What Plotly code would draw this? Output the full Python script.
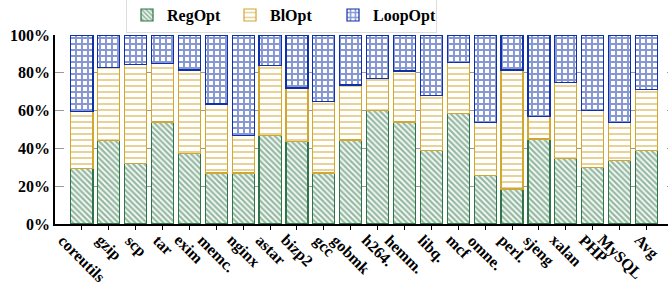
import plotly.graph_objects as go

categories = ["coreutils", "gzip", "scp", "tar", "exim", "memc.", "nginx", "astar", "bizp2", "gcc",
              "gobmk", "h264.", "hemm.", "libq.", "mcf", "omne.", "perl.", "sjeng", "xalan", "PHP",
              "MySQL", "Avg"]
reg_opt = [29.5, 44, 32, 54, 37.5, 27, 27, 47, 43.5, 27, 44.5, 60, 54, 39, 58.5, 25.5, 18.5, 45, 34.5, 30, 33.5, 39]
bl_opt = [30, 39, 52.5, 31, 44, 36.5, 20, 37, 28.5, 38, 29, 17, 27, 29, 27, 28, 63, 12, 40.5, 30, 20, 32]
loop_opt = [100 - a - b for a, b in zip(reg_opt, bl_opt)]
y_ticks = [0, 20, 40, 60, 80, 100]
y_tick_labels = ["0%", "20%", "40%", "60%", "80%", "100%"]

series = [
    ("RegOpt", reg_opt, "#2f7548", "\\", 4, 0.6),
    ("BlOpt", bl_opt, "#d0a830", "-", 6, 0.33),
    ("LoopOpt", loop_opt, "#1030a8", "+", 6, 0.55),
]

font_fam = "Liberation Serif, Times New Roman, serif"
fig = go.Figure()
idx = list(range(len(categories)))
for name, vals, col, shape, size, sol in series:
    fig.add_trace(go.Bar(
        name=name, x=idx, y=vals, width=0.82,
        marker=dict(color="white", line=dict(color=col, width=1.2),
                    pattern=dict(shape=shape, fgcolor=col, bgcolor="white", size=size, solidity=sol)),
    ))

for i, c in enumerate(categories):
    fig.add_annotation(x=i, y=-0.025, xref="x", yref="paper", text=c, textangle=45,
                       showarrow=False, xanchor="center", yanchor="top",
                       font=dict(family=font_fam, size=16, color="black", weight="bold"))

fig.update_layout(
    barmode="stack", width=668, height=283,
    margin=dict(l=55, r=0, t=35, b=59, autoexpand=False),
    plot_bgcolor="white", paper_bgcolor="white",
    font=dict(family=font_fam, size=16, color="black"),
    legend=dict(orientation="h", x=0.3695, xanchor="center", y=1.01, yanchor="bottom",
                bordercolor="#dddddd", borderwidth=1, bgcolor="white", traceorder="normal",
                font=dict(family=font_fam, size=16, color="black", weight="bold"),
                itemwidth=30, tracegroupgap=0, entrywidth=58, entrywidthmode="pixels"),
    showlegend=True,
)
fig.update_xaxes(range=[-1.0, 21.8], tickvals=idx, ticktext=[""] * len(idx), ticks="outside",
                 ticklen=4, tickcolor="black", showline=True, linecolor="black", linewidth=1.5,
                 showgrid=False, zeroline=False)
fig.update_yaxes(range=[0, 100], tickvals=y_ticks, ticktext=y_tick_labels, showline=True,
                 linecolor="black", linewidth=1.5, mirror=True, ticks="", showgrid=True,
                 gridcolor="#999999", griddash="dash", gridwidth=1, zeroline=False,
                 tickfont=dict(family=font_fam, size=16, color="black", weight="bold"))

fig.write_html("out.html", config={"displayModeBar": False},
               post_script="document.body.style.margin='0';document.body.style.overflow='hidden';")
